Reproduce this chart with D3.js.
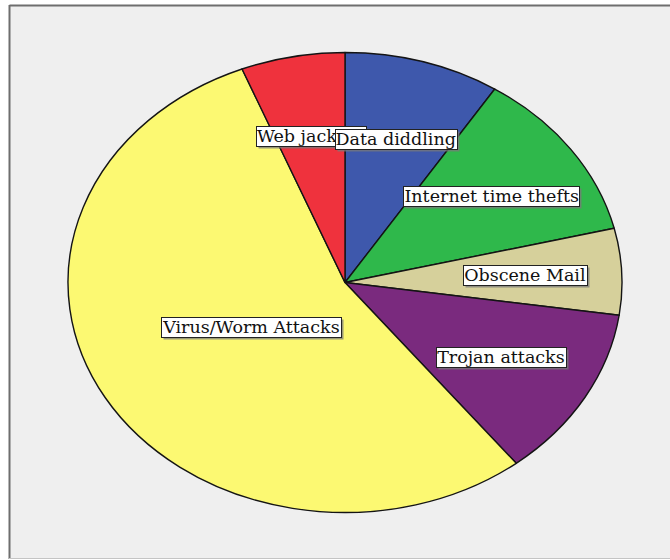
<!DOCTYPE html>
<html>
<head>
<meta charset="utf-8">
<script src="https://cdn.jsdelivr.net/npm/d3@7"></script>
<style>
  html, body { margin: 0; padding: 0; background: #ffffff; }
  svg { display: block; }
</style>
</head>
<body>
<svg id="chart" width="670" height="560"></svg>
<script>
// Reported incidents by type of cyber crime
const categories = ["Data diddling", "Internet time thefts", "Obscene Mail", "Trojan attacks", "Virus/Worm Attacks", "Web jacking"];
const counts = [3, 4, 2, 4, 18, 2];
const colors = ["#3e58ac", "#2fb84b", "#d6d09b", "#7a2a7e", "#fcf972", "#ef323d"];

const W = 670, H = 560;
const svg = d3.select("#chart");

// panel background and frame
svg.append("rect").attr("x", 10).attr("y", 6).attr("width", W).attr("height", 552)
  .attr("fill", "#efefef");
svg.append("line").attr("x1", 9.5).attr("x2", W).attr("y1", 5.5).attr("y2", 5.5)
  .attr("stroke", "#6e6e6e").attr("stroke-width", 2);
svg.append("line").attr("x1", 9.5).attr("x2", 9.5).attr("y1", 5).attr("y2", 559)
  .attr("stroke", "#6e6e6e").attr("stroke-width", 2);
svg.append("line").attr("x1", 9).attr("x2", W).attr("y1", 558.5).attr("y2", 558.5)
  .attr("stroke", "#c4c4c4").attr("stroke-width", 1);

// elliptical pie: a circle of radius rx squashed vertically
const cx = 345, cy = 282.5, rx = 277, ry = 230;
const data = categories.map((c, i) => ({ name: c, value: counts[i], color: colors[i] }));
const total = d3.sum(counts);

const pie = d3.pie().value(d => d.value).sort(null);
const arcs = pie(data);
const arc = d3.arc().innerRadius(0).outerRadius(rx);

const g = svg.append("g").attr("transform", `translate(${cx},${cy}) scale(1,${ry / rx})`);
g.selectAll("path.slice").data(arcs).join("path")
  .attr("class", "slice")
  .attr("d", arc)
  .attr("fill", d => d.data.color)
  .attr("stroke", "#141414")
  .attr("stroke-width", 1.4)
  .attr("stroke-linejoin", "round")
  .attr("vector-effect", "non-scaling-stroke");

// labels in boxes; drawn in reverse so the first slice's label sits on top
const labelLayer = svg.append("g");
const fontSize = 17.5;
arcs.slice().reverse().forEach(a => {
  const mid = (a.startAngle + a.endAngle) / 2;
  const f = a.data.value / total > 0.5 ? 0.39 : 0.65;
  const lx = cx + rx * f * Math.sin(mid);
  const ly = cy - ry * f * Math.cos(mid);
  const lg = labelLayer.append("g");
  const t = lg.append("text")
    .attr("x", lx).attr("y", ly)
    .attr("text-anchor", "middle")
    .attr("dominant-baseline", "central")
    .attr("font-family", "'DejaVu Serif', 'Liberation Serif', serif")
    .attr("font-size", fontSize)
    .attr("fill", "#111")
    .text(a.data.name);
  const bb = t.node().getBBox();
  const padX = 1, padY = 0;
  const bx = Math.round(bb.x - padX), by = Math.round(bb.y - padY);
  const bw = Math.round(bb.width + 2 * padX), bh = Math.round(bb.height + 2 * padY);
  lg.insert("rect", "text")
    .attr("x", bx + 2.5).attr("y", by + 2.5).attr("width", bw).attr("height", bh)
    .attr("fill", "#7a7a7a").attr("opacity", 0.75);
  lg.insert("rect", "text")
    .attr("x", bx + 0.5).attr("y", by + 0.5).attr("width", bw).attr("height", bh)
    .attr("fill", "#ffffff").attr("stroke", "#222").attr("stroke-width", 1);
});
</script>
</body>
</html>
